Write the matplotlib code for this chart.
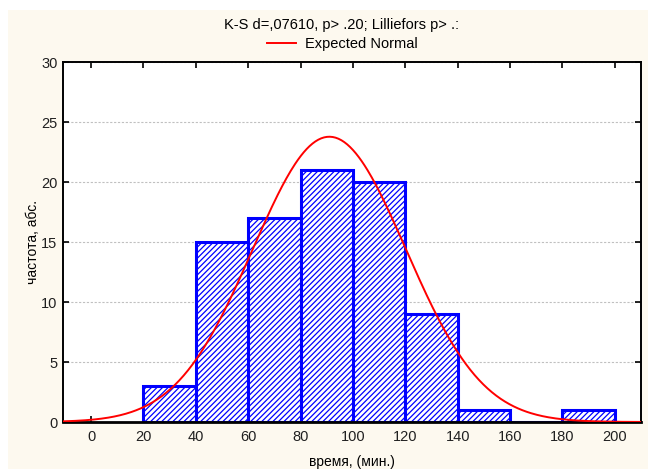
import numpy as np
import matplotlib.pyplot as plt
from matplotlib.patches import Rectangle

# histogram data
bin_edges = [20, 40, 60, 80, 100, 120, 140, 160, 180, 200]
counts = [3, 15, 17, 21, 20, 9, 1, 0, 1]
x_ticks = [0, 20, 40, 60, 80, 100, 120, 140, 160, 180, 200]
y_ticks = [0, 5, 10, 15, 20, 25, 30]

# fitted normal
mean = 91.0
std = 29.2

plt.rcParams['font.family'] = ['Liberation Sans', 'DejaVu Sans']

fig = plt.figure(figsize=(6.48, 4.69), dpi=100)
fig.patch.set_facecolor('white')
# cream frame like the original screenshot
fig.patches.append(Rectangle((8 / 648, 0), 1, 1 - 10 / 469, transform=fig.transFigure,
                             facecolor='#fdf9ef', edgecolor='none', zorder=-10))

ax = fig.add_axes([63 / 648, 1 - 422 / 469, (641 - 63) / 648, (422 - 62) / 469])
ax.set_facecolor('white')

edges = np.array(bin_edges)
widths = np.diff(edges)
plt.rcParams['hatch.linewidth'] = 0.9
ax.bar(edges[:-1], counts, width=widths, align='edge', facecolor='white',
       edgecolor='#0000ff', linewidth=2.2, hatch='//////', zorder=2)

xs = np.linspace(-10.5, 210, 400)
n = sum(counts)
ys = n * 20 / (std * np.sqrt(2 * np.pi)) * np.exp(-0.5 * ((xs - mean) / std) ** 2)
ax.plot(xs, ys, color='#ff0000', lw=1.4, zorder=3, label='Expected Normal')

ax.set_xlim(-10.7, 210)
ax.set_ylim(0, 30)
ax.set_xticks(x_ticks)
ax.set_yticks(y_ticks)
ax.tick_params(direction='in', top=True, right=True, length=4, width=1.2,
               labelsize=10.5, labelcolor='#202020')
ax.tick_params(axis='x', pad=6)
ax.tick_params(axis='y', pad=4)
ax.yaxis.grid(True, linestyle=(0, (2, 1.5)), color='#c0c0c0', lw=0.8)
ax.set_axisbelow(True)
for s in ax.spines.values():
    s.set_linewidth(1.4)
    s.set_color('black')
ax.spines['bottom'].set_linewidth(2.0)

ax.set_xlabel('время, (мин.)', fontsize=10, labelpad=10)
ax.set_ylabel('частота, абс.', fontsize=10, labelpad=10)
ax.xaxis.set_label_coords(0.5, -(462 - 422) / 360, transform=ax.transAxes)
ax.xaxis.label.set_va('center')
ax.yaxis.set_label_coords(-(63 - 33) / 578, 0.5, transform=ax.transAxes)
ax.yaxis.label.set_va('center')

cx = 342 / 648
fig.text(cx, 1 - 25 / 469, 'K-S d=,07610, p> .20; Lilliefors p> .:',
         ha='center', va='center', fontsize=10.5)
ax.legend(loc='center', bbox_to_anchor=(cx, 1 - 44 / 469), bbox_transform=fig.transFigure,
          frameon=False, fontsize=10.5, handlelength=2.0, handletextpad=0.6, borderaxespad=0)

fig.savefig('out.png', dpi=100, facecolor=fig.get_facecolor())
